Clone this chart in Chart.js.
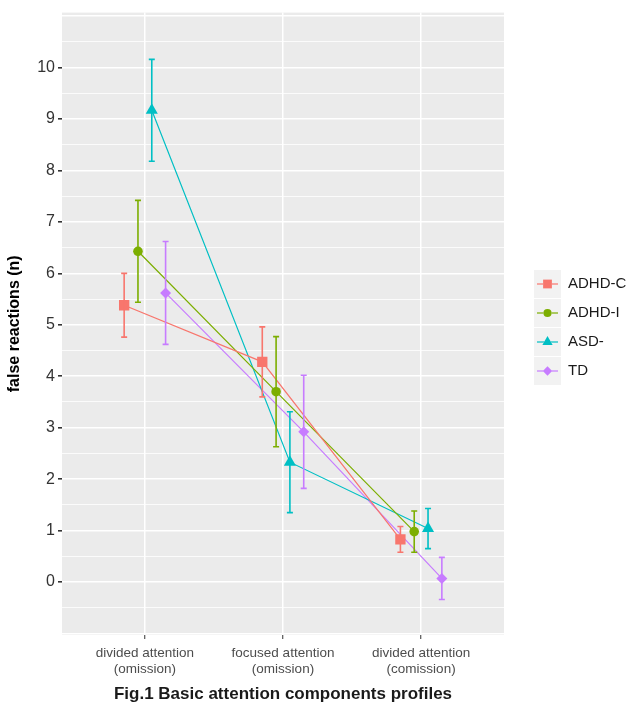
<!DOCTYPE html>
<html>
<head>
<meta charset="utf-8">
<script src="https://cdn.jsdelivr.net/npm/chart.js@4.4.1/dist/chart.umd.min.js"></script>
<style>
  html, body { margin: 0; padding: 0; background: #ffffff; }
  #wrap { position: relative; width: 629px; height: 704px; }
</style>
</head>
<body>
<div id="wrap"><canvas id="profileChart" width="629" height="704"></canvas></div>
<script>
// categories on the x axis (positions 1..3)
const categories = [
    ['divided attention', '(omission)'],
    ['focused attention', '(omission)'],
    ['divided attention', '(comission)']
];
const groups = ['ADHD-C', 'ADHD-I', 'ASD-', 'TD'];
const dodge = [-0.15, -0.05, 0.05, 0.15];   // ggplot position_dodge offsets

// mean false reactions per group
const adhdC = [5.38, 4.28, 0.83];
const adhdI = [6.43, 3.70, 0.98];
const asd   = [9.17, 2.33, 1.04];
const td    = [5.62, 2.92, 0.07];

// error bar half widths
const adhdCErr = [0.62, 0.68, 0.25];
const adhdIErr = [0.99, 1.07, 0.40];
const asdErr   = [0.99, 0.98, 0.39];
const tdErr    = [1.00, 1.10, 0.41];

const yTicks = [-1, -0.5, 0, 0.5, 1, 1.5, 2, 2.5, 3, 3.5, 4, 4.5, 5, 5.5, 6, 6.5, 7, 7.5, 8, 8.5, 9, 9.5, 10, 10.5, 11];

const colors = ['#F8766D', '#7CAE00', '#00BFC4', '#C77CFF'];
const shapes = ['rect', 'circle', 'triangle', 'rectRot'];
const radii  = [7.3, 4.8, 7, 5.5];
const means  = [adhdC, adhdI, asd, td];
const errs   = [adhdCErr, adhdIErr, asdErr, tdErr];

const datasets = groups.map(function(name, g) {
    return {
        label: name,
        data: means[g].map(function(v, i) { return { x: i + 1 + dodge[g], y: v }; }),
        errors: errs[g],
        borderColor: colors[g], backgroundColor: colors[g],
        borderWidth: 1.2, pointStyle: shapes[g], pointRadius: radii[g],
        pointBorderWidth: 0, pointHoverRadius: radii[g], showLine: true, tension: 0
    };
});

// grey panel like ggplot
const panelBg = {
    id: 'panelBg',
    beforeDraw(chart) {
        const a = chart.chartArea, ctx = chart.ctx;
        ctx.save(); ctx.fillStyle = '#EBEBEB';
        ctx.fillRect(a.left, a.top, a.right - a.left, a.bottom - a.top);
        ctx.restore();
    }
};

// vertical error bars with caps
const errorBars = {
    id: 'errorBars',
    afterDatasetsDraw(chart) {
        const ctx = chart.ctx, xs = chart.scales.x, ys = chart.scales.y;
        ctx.save();
        chart.data.datasets.forEach(function(ds) {
            ctx.strokeStyle = ds.borderColor; ctx.lineWidth = 1.6;
            ds.data.forEach(function(p, i) {
                const x = xs.getPixelForValue(p.x);
                const yTop = ys.getPixelForValue(p.y + ds.errors[i]);
                const yBot = ys.getPixelForValue(p.y - ds.errors[i]);
                ctx.beginPath();
                ctx.moveTo(x, yTop); ctx.lineTo(x, yBot);
                ctx.moveTo(x - 3, yTop); ctx.lineTo(x + 3, yTop);
                ctx.moveTo(x - 3, yBot); ctx.lineTo(x + 3, yBot);
                ctx.stroke();
            });
        });
        ctx.restore();
    }
};

// right-hand legend and titles drawn by hand
const extras = {
    id: 'extras',
    afterDraw(chart) {
        const ctx = chart.ctx, a = chart.chartArea;
        ctx.save();
        // legend
        chart.data.datasets.forEach(function(ds, g) {
            const top = 270 + g * 29;
            ctx.fillStyle = '#F2F2F2';
            ctx.fillRect(534, top, 27, 28);
            const cy = top + 14;
            ctx.strokeStyle = ds.borderColor; ctx.lineWidth = 1.2;
            ctx.beginPath(); ctx.moveTo(537, cy); ctx.lineTo(558, cy); ctx.stroke();
            Chart.helpers.drawPoint(ctx, { pointStyle: ds.pointStyle, radius: ds.pointRadius * 0.85, borderWidth: 0 }, 547.5, cy);
            ctx.fillStyle = ds.borderColor; ctx.fill();
            ctx.fillStyle = '#1a1a1a';
            ctx.font = '15px "Liberation Sans", Arial, sans-serif';
            ctx.textBaseline = 'middle'; ctx.textAlign = 'left';
            ctx.fillText(ds.label, 568, cy);
        });
        // y axis title
        ctx.fillStyle = '#000000';
        ctx.font = 'bold 16px "Liberation Sans", Arial, sans-serif';
        ctx.translate(15, (a.top + a.bottom) / 2);
        ctx.rotate(-Math.PI / 2);
        ctx.textAlign = 'center'; ctx.textBaseline = 'middle';
        ctx.fillText('false reactions (n)', 0, 0);
        ctx.restore();
        ctx.save();
        ctx.fillStyle = '#1a1a1a';
        ctx.font = 'bold 17px "Liberation Sans", Arial, sans-serif';
        ctx.textAlign = 'center'; ctx.textBaseline = 'alphabetic';
        ctx.fillText('Fig.1 Basic attention components profiles', (a.left + a.right) / 2, 699);
        ctx.restore();
    }
};

const chartOptions = {
    responsive: false, animation: false,
    layout: { padding: { left: 0, right: 125, top: 11, bottom: 0 } },
    plugins: { legend: { display: false }, tooltip: { enabled: false }, title: { display: false } },
    scales: {
        x: {
            type: 'linear', min: 0.4, max: 3.6,
            afterBuildTicks: function(axis) { axis.ticks = [1, 2, 3].map(function(v) { return { value: v }; }); },
            afterFit: function(axis) { axis.height = 69; },
            ticks: {
                color: '#4D4D4D', padding: 6, maxRotation: 0, autoSkip: false,
                font: { family: '"Liberation Sans", Arial, sans-serif', size: 13.5, lineHeight: 1.18 },
                callback: function(v) { return categories[Math.round(v) - 1]; }
            },
            grid: { color: '#FFFFFF', lineWidth: 1.5, drawTicks: true, tickLength: 4, tickColor: '#333333', tickWidth: 1 },
            border: { display: false }
        },
        y: {
            type: 'linear', min: -1.03, max: 11.07,
            afterBuildTicks: function(axis) { axis.ticks = yTicks.map(function(v) { return { value: v }; }); },
            afterFit: function(axis) { axis.width = 62; },
            ticks: {
                color: '#333333', padding: 3, autoSkip: false,
                font: { family: '"Liberation Sans", Arial, sans-serif', size: 16 },
                callback: function(v) { return (Number.isInteger(v) && v >= 0 && v <= 10) ? String(v) : ''; }
            },
            grid: {
                color: '#FFFFFF',
                lineWidth: function(c) { return Number.isInteger(c.tick.value) ? 1.6 : 0.8; },
                drawTicks: true, tickLength: 4,
                tickColor: function(c) { return (Number.isInteger(c.tick.value) && c.tick.value >= 0 && c.tick.value <= 10) ? '#333333' : 'rgba(0,0,0,0)'; }
            },
            border: { display: false }
        }
    }
};

new Chart(document.getElementById('profileChart'), {
    type: 'scatter',
    data: { datasets: datasets },
    options: chartOptions,
    plugins: [panelBg, errorBars, extras]
});
</script>
</body>
</html>
